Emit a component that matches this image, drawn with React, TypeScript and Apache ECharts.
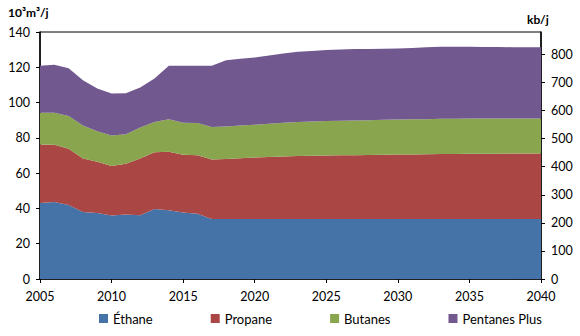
import React, { useEffect, useRef } from "react";
import * as echarts from "echarts";

const years = [
  2005, 2006, 2007, 2008, 2009, 2010, 2011, 2012, 2013, 2014, 2015, 2016, 2017, 2018, 2019, 2020,
  2021, 2022, 2023, 2024, 2025, 2026, 2027, 2028, 2029, 2030, 2031, 2032, 2033, 2034, 2035, 2036,
  2037, 2038, 2039, 2040,
];
// cumulative tops (10^3 m3/j)
const ethaneTop = [
  43.1, 43.6, 41.9, 38.0, 37.4, 36.0, 36.6, 36.2, 39.7, 38.9, 37.7, 37.0, 34.0, 34.0, 34.0, 34.0,
  34.0, 34.0, 34.0, 34.0, 34.0, 34.0, 34.0, 34.0, 34.0, 34.0, 34.0, 34.0, 34.0, 34.0, 34.0, 34.0,
  34.0, 34.0, 34.0, 34.0,
];
const propaneTop = [
  76.3, 76.1, 73.8, 68.3, 66.4, 64.1, 65.3, 68.3, 71.9, 72.1, 70.4, 70.2, 67.7, 68.0, 68.4, 68.8,
  69.1, 69.4, 69.7, 69.9, 70.0, 70.1, 70.2, 70.3, 70.4, 70.5, 70.6, 70.7, 70.8, 70.9, 71.0, 71.0,
  71.0, 71.1, 71.1, 71.1,
];
const butanesTop = [
  94.3, 94.2, 92.4, 87.0, 83.7, 81.4, 82.1, 85.8, 89.0, 90.5, 88.6, 88.4, 86.1, 86.5, 87.0, 87.5,
  88.0, 88.5, 89.0, 89.3, 89.5, 89.7, 89.9, 90.0, 90.2, 90.4, 90.5, 90.6, 90.8, 90.9, 91.0, 91.0,
  91.0, 91.0, 91.0, 91.0,
];
const pentanesTop = [
  120.8, 121.4, 119.5, 112.7, 108.0, 105.1, 105.3, 108.5, 113.6, 120.8, 120.8, 120.8, 120.8, 124.0,
  124.8, 125.6, 126.7, 127.8, 128.8, 129.3, 129.8, 130.1, 130.3, 130.4, 130.5, 130.7, 131.0, 131.3,
  131.6, 131.6, 131.6, 131.5, 131.5, 131.4, 131.4, 131.3,
];
const seriesNames = ["Éthane", "Propane", "Butanes", "Pentanes Plus"];
const colors = ["#4572A7", "#AA4643", "#89A54E", "#71588F"];

const tops = [ethaneTop, propaneTop, butanesTop, pentanesTop];
const layers = tops.map((t, i) =>
  t.map((v, j) => +(v - (i > 0 ? tops[i - 1][j] : 0)).toFixed(2))
);

const FONT = "Lato, sans-serif";

export default function App() {
  const ref = useRef<HTMLDivElement>(null);
  useEffect(() => {
    if (!ref.current) return;
    const chart = echarts.init(ref.current, undefined, { renderer: "svg" });
    chart.setOption({
      animation: false,
      textStyle: { fontFamily: FONT },
      grid: {
        left: 40,
        right: 39,
        top: 32,
        bottom: 57,
        show: true,
        borderColor: "#000",
        borderWidth: 1,
        backgroundColor: "transparent",
      },
      legend: {
        bottom: 6,
        left: 94,
        itemWidth: 9,
        itemHeight: 9,
        itemGap: 58,
        icon: "rect",
        textStyle: { fontSize: 13, color: "#000", fontFamily: FONT },
        data: seriesNames,
      },
      graphic: [
        {
          type: "text",
          left: 8,
          top: 6,
          style: { text: "10³m³/j", fontSize: 12, fontWeight: "bold", fill: "#000", fontFamily: FONT },
        },
        {
          type: "text",
          left: 527,
          top: 13,
          style: { text: "kb/j", fontSize: 12, fontWeight: "bold", fill: "#000", fontFamily: FONT },
        },
      ],
      xAxis: {
        type: "category",
        boundaryGap: false,
        data: years.map(String),
        splitLine: { show: false },
        axisLine: { lineStyle: { color: "#000", width: 1.5 } },
        axisTick: { show: true, length: 4, interval: 4, lineStyle: { color: "#000" } },
        axisLabel: { color: "#000", fontSize: 12.5, margin: 11, interval: 4, fontFamily: FONT },
      },
      yAxis: [
        {
          type: "value",
          min: 0,
          max: 140,
          interval: 20,
          splitLine: { show: false },
          axisLine: { show: true, lineStyle: { color: "#000", width: 1.5 } },
          axisTick: { show: true, length: 4, lineStyle: { color: "#000" } },
          axisLabel: { color: "#000", fontSize: 12.5, margin: 10, fontFamily: FONT },
        },
        {
          type: "value",
          position: "right",
          min: 0,
          max: 880,
          interval: 100,
          splitLine: { show: false },
          axisLine: { show: true, lineStyle: { color: "#000", width: 1.5 } },
          axisTick: { show: true, length: 4, lineStyle: { color: "#000" } },
          axisLabel: { color: "#000", fontSize: 12.5, margin: 10, showMaxLabel: false, fontFamily: FONT },
        },
      ],
      series: layers.map((vals, i) => ({
        name: seriesNames[i],
        type: "line",
        stack: "total",
        yAxisIndex: 0,
        data: vals,
        showSymbol: false,
        symbol: "none",
        lineStyle: { width: 0 },
        itemStyle: { color: colors[i] },
        areaStyle: { color: colors[i], opacity: 1 },
        z: 2,
      })),
    });
    return () => chart.dispose();
  }, []);
  return (
    <div
      ref={ref}
      style={{ position: "absolute", left: 0, top: 0, width: 580, height: 336 }}
    />
  );
}
